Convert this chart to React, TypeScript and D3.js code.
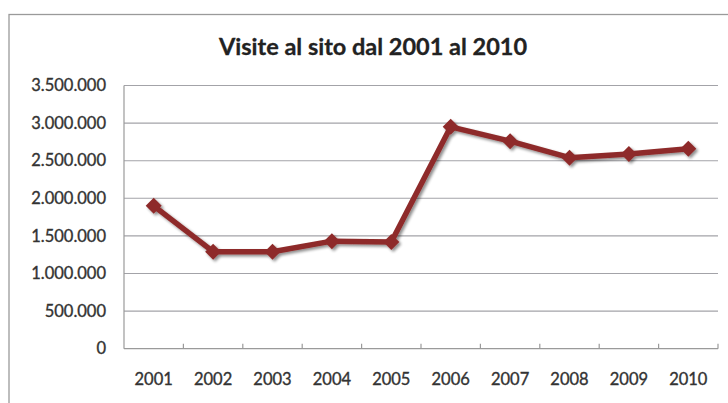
import React from "react";
import * as d3 from "d3";

const years = ["2001", "2002", "2003", "2004", "2005", "2006", "2007", "2008", "2009", "2010"];
const visits = [1900000, 1290000, 1290000, 1430000, 1420000, 2950000, 2760000, 2540000, 2590000, 2660000];
const yTicks = [0, 500000, 1000000, 1500000, 2000000, 2500000, 3000000, 3500000];
const title = "Visite al sito dal 2001 al 2010";

const W = 728;
const H = 403;
const left = 124;
const right = 718;
const top = 85.5;
const bottom = 348.7;

const fmt = (v: number) => (v === 0 ? "0" : d3.format(",")(v).replace(/,/g, "."));

export default function App() {
  const x = d3.scaleBand<string>().domain(years).range([left, right]);
  const y = d3.scaleLinear().domain([0, 3500000]).range([bottom, top]);
  const line = d3
    .line<number>()
    .x((_, i) => (x(years[i]) as number) + x.bandwidth() / 2)
    .y((d) => y(d));
  const boundaries = years.map((yr) => x(yr) as number).concat([right]);
  const font = "Lato, 'Open Sans', sans-serif";
  const red = "#8E2B2A";
  const r = 8;
  const diamond = `M0,${-r}L${r},0L0,${r}L${-r},0Z`;

  return (
    <div style={{ position: "absolute", left: 0, top: 0 }}>
      <svg width={W} height={H} style={{ display: "block", background: "#fff" }}>
        <defs>
          <filter id="sh" x="-20%" y="-20%" width="140%" height="140%">
            <feGaussianBlur in="SourceAlpha" stdDeviation="1.6" />
            <feOffset dx="1.5" dy="2" result="o" />
            <feComponentTransfer>
              <feFuncA type="linear" slope="0.45" />
            </feComponentTransfer>
            <feMerge>
              <feMergeNode />
              <feMergeNode in="SourceGraphic" />
            </feMerge>
          </filter>
        </defs>
        <rect x={9} y={14.5} width={W + 10} height={H + 10} fill="#fff" stroke="#9a9a9a" strokeWidth={1.3} />
        <text
          x={373}
          y={55}
          textAnchor="middle"
          fontFamily={font}
          fontWeight={700}
          fontSize={23.5}
          fill="#222"
          stroke="#222"
          strokeWidth={0.3}
        >
          {title}
        </text>
        {yTicks.map((t) => (
          <g key={t}>
            {t > 0 && <line x1={left} x2={right} y1={y(t)} y2={y(t)} stroke="#a3a3a8" strokeWidth={1.1} />}
            <text
              x={106}
              y={y(t)}
              dy="0.35em"
              textAnchor="end"
              fontFamily={font}
              fontSize={16.5}
              fill="#333"
              stroke="#333"
              strokeWidth={0.35}
            >
              {fmt(t)}
            </text>
          </g>
        ))}
        <line x1={left} x2={left} y1={top} y2={bottom} stroke="#9a9a9a" strokeWidth={1.2} />
        <line x1={left} x2={right} y1={bottom} y2={bottom} stroke="#9a9a9a" strokeWidth={1.2} />
        {boundaries.slice(1).map((b, i) => (
          <line key={i} x1={b} x2={b} y1={bottom} y2={bottom - 5} stroke="#9a9a9a" strokeWidth={1.2} />
        ))}
        {years.map((yr) => (
          <text
            key={yr}
            x={(x(yr) as number) + x.bandwidth() / 2}
            y={379}
            dy="0.35em"
            textAnchor="middle"
            fontFamily={font}
            fontSize={16.5}
            fill="#333"
            stroke="#333"
            strokeWidth={0.35}
          >
            {yr}
          </text>
        ))}
        <g filter="url(#sh)">
          <path d={line(visits) as string} fill="none" stroke={red} strokeWidth={5.5} strokeLinejoin="round" />
          {visits.map((v, i) => (
            <path
              key={i}
              d={diamond}
              transform={`translate(${(x(years[i]) as number) + x.bandwidth() / 2},${y(v)})`}
              fill={red}
            />
          ))}
        </g>
      </svg>
    </div>
  );
}
